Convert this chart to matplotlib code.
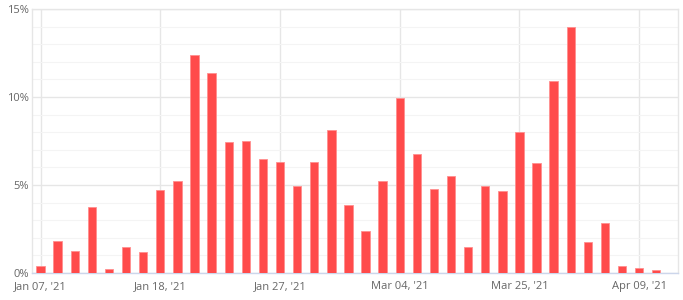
import matplotlib.pyplot as plt
from matplotlib.ticker import MultipleLocator, FuncFormatter

# daily values in percent, one bar per trading day shown
values = [0.40, 1.82, 1.23, 3.75, 0.23, 1.48, 1.19, 4.71, 5.22, 12.37, 11.37, 7.43,
          7.49, 6.47, 6.30, 4.94, 6.30, 8.11, 3.86, 2.38, 5.22, 9.93, 6.75, 4.77,
          5.50, 1.48, 4.94, 4.65, 8.00, 6.24, 10.89, 13.96, 1.76, 2.84, 0.40, 0.28, 0.17]
tick_pos = [0, 7, 14, 21, 28, 35]
tick_labels = ["Jan 07, '21", "Jan 18, '21", "Jan 27, '21", "Mar 04, '21", "Mar 25, '21", "Apr 09, '21"]
y_ticks = [0, 5, 10, 15]

plt.rcParams['font.family'] = ['Open Sans', 'DejaVu Sans']

fig = plt.figure(figsize=(6.83, 3.0), dpi=100)
ax = fig.add_axes([32 / 683, 27 / 300, 646 / 683, 264 / 300])

x = list(range(len(values)))
ax.bar(x, values, width=0.49, color='#ff4b4b', edgecolor='#ff8f8f', linewidth=0.6, zorder=3)

ax.set_xlim(-0.5, 37.27)
ax.set_ylim(0, 15)

ax.set_xticks(tick_pos)
ax.set_xticklabels(tick_labels)
ax.set_yticks(y_ticks)
ax.yaxis.set_minor_locator(MultipleLocator(1))
ax.yaxis.set_major_formatter(FuncFormatter(lambda v, p: f'{int(v)}%'))

ax.grid(axis='y', which='major', color='#e6e6e6', linewidth=1, zorder=0)
ax.grid(axis='y', which='minor', color='#f4f4f4', linewidth=0.8, zorder=0)
ax.grid(axis='x', which='major', color='#e6e6e6', linewidth=1, zorder=0)

for side in ['top', 'right', 'left']:
    ax.spines[side].set_color('#e6e6e6')
    ax.spines[side].set_linewidth(1)
ax.spines['bottom'].set_color('#ccd6eb')
ax.spines['bottom'].set_linewidth(1)

ax.tick_params(axis='both', which='both', length=0, labelsize=8, labelcolor='#666666')
ax.tick_params(axis='x', pad=6)
ax.tick_params(axis='y', pad=2)

fig.savefig('out.png', dpi=100)
